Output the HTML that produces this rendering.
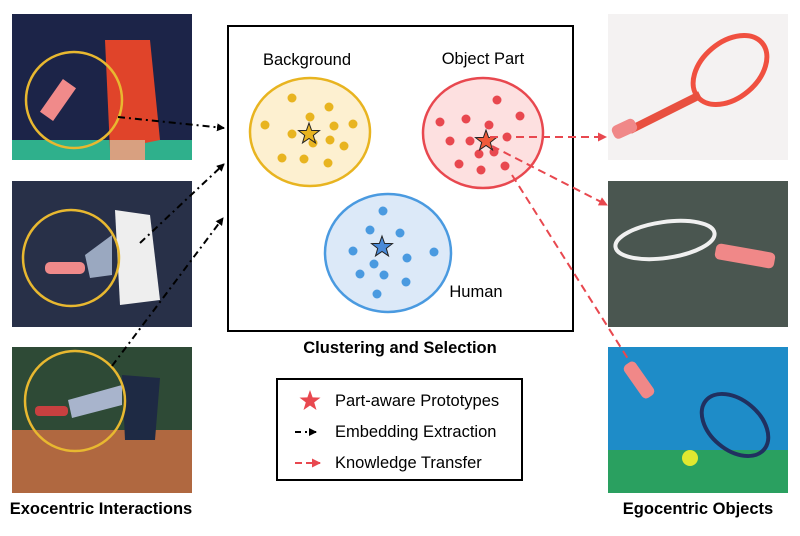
<!DOCTYPE html>
<html><head><meta charset="utf-8"><style>
body{margin:0;width:800px;height:536px;background:#fff;overflow:hidden;font-family:"Liberation Sans",sans-serif}
svg{display:block}
</style></head><body>
<svg width="800" height="536" viewBox="0 0 800 536" font-family="Liberation Sans, sans-serif">
<defs>
<marker id="ab" markerWidth="8" markerHeight="8" refX="7" refY="4" orient="auto" markerUnits="userSpaceOnUse"><path d="M0,0 L8,4 L0,8z" fill="#000"/></marker>
<marker id="ar" markerWidth="9" markerHeight="9" refX="8" refY="4.5" orient="auto" markerUnits="userSpaceOnUse"><path d="M0,0 L9,4.5 L0,9z" fill="#e8484f"/></marker>
</defs>
<g>
<rect x="12" y="14" width="180" height="146" fill="#1c2448"/>
<rect x="12" y="140" width="180" height="20" fill="#2fb08c"/>
<path d="M105,40 L150,40 L160,140 L110,150z" fill="#e0442a"/>
<rect x="110" y="140" width="35" height="20" fill="#d8a080"/>
<rect x="50" y="80" width="16" height="40" fill="#f08a8a" transform="rotate(35 58 100)"/>
<circle cx="74" cy="100" r="48" fill="none" stroke="#e8b830" stroke-width="2.5"/>
</g>
<g>
<rect x="12" y="181" width="180" height="146" fill="#283048"/>
<path d="M115,210 L150,215 L160,300 L120,305z" fill="#eeeeee"/>
<rect x="45" y="262" width="40" height="12" rx="5" fill="#f08a8a"/>
<path d="M85,255 L112,235 L112,275 L90,278z" fill="#9aa8c0"/>
<circle cx="71" cy="258" r="48" fill="none" stroke="#e8b830" stroke-width="2.5"/>
</g>
<g>
<rect x="12" y="347" width="180" height="146" fill="#2e4a36"/>
<rect x="12" y="430" width="180" height="63" fill="#b06840"/>
<path d="M122,375 L160,378 L155,440 L125,440z" fill="#1e2a44"/>
<rect x="35" y="406" width="33" height="10" rx="4" fill="#c84040"/>
<path d="M68,400 L122,385 L122,405 L72,418z" fill="#a8b4cc"/>
<circle cx="75" cy="401" r="50" fill="none" stroke="#e8b830" stroke-width="2.5"/>
</g>
<text x="101" y="514" text-anchor="middle" font-size="16.5" font-weight="bold">Exocentric Interactions</text>
<g>
<rect x="608" y="14" width="180" height="146" fill="#f4f2f2"/>
<ellipse cx="730" cy="70" rx="42" ry="28" fill="none" stroke="#f05040" stroke-width="5" transform="rotate(-40 730 70)"/>
<line x1="700" y1="95" x2="630" y2="130" stroke="#e85040" stroke-width="8"/>
<rect x="612" y="122" width="25" height="14" rx="5" fill="#f08888" transform="rotate(-25 624 129)"/>
</g>
<g>
<rect x="608" y="181" width="180" height="146" fill="#4a5650"/>
<ellipse cx="665" cy="240" rx="50" ry="18" fill="none" stroke="#f0f0f0" stroke-width="4" transform="rotate(-8 665 240)"/>
<rect x="715" y="248" width="60" height="16" rx="5" fill="#f08888" transform="rotate(10 745 256)"/>
</g>
<g>
<rect x="608" y="347" width="180" height="146" fill="#1e8cc8"/>
<rect x="608" y="450" width="180" height="43" fill="#2aa060"/>
<ellipse cx="735" cy="425" rx="38" ry="25" fill="none" stroke="#203060" stroke-width="4" transform="rotate(40 735 425)"/>
<rect x="632" y="360" width="14" height="40" rx="5" fill="#f08888" transform="rotate(-35 639 380)"/>
<circle cx="690" cy="458" r="8" fill="#e0e830"/>
</g>
<text x="698" y="514" text-anchor="middle" font-size="16.5" font-weight="bold">Egocentric Objects</text>
<rect x="228" y="26" width="345" height="305" fill="#fff" stroke="#000" stroke-width="2"/>
<text x="400" y="353" text-anchor="middle" font-size="16.5" font-weight="bold">Clustering and Selection</text>
<text x="307" y="65" text-anchor="middle" font-size="16.5">Background</text>
<text x="483" y="64" text-anchor="middle" font-size="16.5">Object Part</text>
<text x="476" y="297" text-anchor="middle" font-size="16.5">Human</text>
<g id="clusters"></g>
<g stroke="#000" stroke-width="2" stroke-dasharray="7,4,2,4" fill="none">
<line x1="118" y1="117" x2="224" y2="128" marker-end="url(#ab)"/>
<line x1="140" y1="243" x2="224" y2="164" marker-end="url(#ab)"/>
<line x1="112" y1="366" x2="223" y2="218" marker-end="url(#ab)"/>
</g>
<g stroke="#e8484f" stroke-width="2" stroke-dasharray="8,5" fill="none">
<line x1="490" y1="137" x2="606" y2="137" marker-end="url(#ar)"/>
<line x1="492" y1="146" x2="607" y2="205" marker-end="url(#ar)"/>
<line x1="512" y1="175" x2="630" y2="362"/>
</g>
<g>
<rect x="277" y="379" width="245" height="101" fill="#fff" stroke="#000" stroke-width="2"/>
<polygon points="310,390 312.6,397.4 320.5,397.6 314.2,402.4 316.5,410 310,405.5 303.5,410 305.8,402.4 299.5,397.6 307.4,397.4" fill="#e8484f"/>
<text x="335" y="406" font-size="16.5">Part-aware Prototypes</text>
<line x1="295" y1="432" x2="316" y2="432" stroke="#000" stroke-width="2" stroke-dasharray="6,4,2,4" marker-end="url(#ab)"/>
<text x="335" y="437" font-size="16.5">Embedding Extraction</text>
<line x1="295" y1="463" x2="320" y2="463" stroke="#e8484f" stroke-width="2" stroke-dasharray="7,4" marker-end="url(#ar)"/>
<text x="335" y="468" font-size="16.5">Knowledge Transfer</text>
</g>
</svg>
<script>
const bgDots=[[64,72],[101,81],[82,91],[37,99],[106,100],[125,98],[64,108],[102,114],[85,117],[116,120],[54,132],[76,133],[100,137]];
const partDots=[[269,74],[292,90],[212,96],[238,93],[261,99],[279,111],[222,115],[242,115],[266,126],[251,128],[231,138],[253,144],[277,140]];
const humanDots=[[155,185],[142,204],[172,207],[125,225],[206,226],[179,232],[146,238],[132,248],[156,249],[178,256],[149,268]];
const clusterInfo=[
 {name:'background',cx:310,cy:132,rx:60,ry:54,stroke:'#e8b420',fill:'#fdf0d0',dot:'#e8b420',star:[309,134],starFill:'#e8b420',dots:bgDots},
 {name:'object-part',cx:483,cy:133,rx:60,ry:55,stroke:'#e8484f',fill:'#fde0e0',dot:'#e8484f',star:[486,141],starFill:'#f05a3a',dots:partDots},
 {name:'human',cx:388,cy:253,rx:63,ry:59,stroke:'#4a9ae0',fill:'#dce9f8',dot:'#4a9ae0',star:[382,247],starFill:'#4a8ad8',dots:humanDots}
];
const NS='http://www.w3.org/2000/svg';
const g=document.getElementById('clusters');
function star(cx,cy,R,r){let p=[];for(let i=0;i<10;i++){const a=-Math.PI/2+i*Math.PI/5;const rr=i%2?r:R;p.push((cx+rr*Math.cos(a)).toFixed(1)+','+(cy+rr*Math.sin(a)).toFixed(1));}return p.join(' ');}
clusterInfo.forEach(c=>{
 const e=document.createElementNS(NS,'ellipse');
 
 
 e.setAttribute('cx',c.cx);e.setAttribute('cy',c.cy);e.setAttribute('rx',c.rx);e.setAttribute('ry',c.ry);
 e.setAttribute('fill',c.fill);e.setAttribute('stroke',c.stroke);e.setAttribute('stroke-width','2.5');
 g.appendChild(e);
 c.dots.forEach(d=>{
  const o=document.createElementNS(NS,'circle');
  
  
  o.setAttribute('cx',228+d[0]);o.setAttribute('cy',26+d[1]);o.setAttribute('r','4.5');o.setAttribute('fill',c.dot);
  g.appendChild(o);
 });
 const s=document.createElementNS(NS,'polygon');
 
 
 s.setAttribute('points',star(c.star[0],c.star[1],11,4.5));
 s.setAttribute('fill',c.starFill);s.setAttribute('stroke','#222');s.setAttribute('stroke-width','1');
 g.appendChild(s);
});
</script>
</body></html>
